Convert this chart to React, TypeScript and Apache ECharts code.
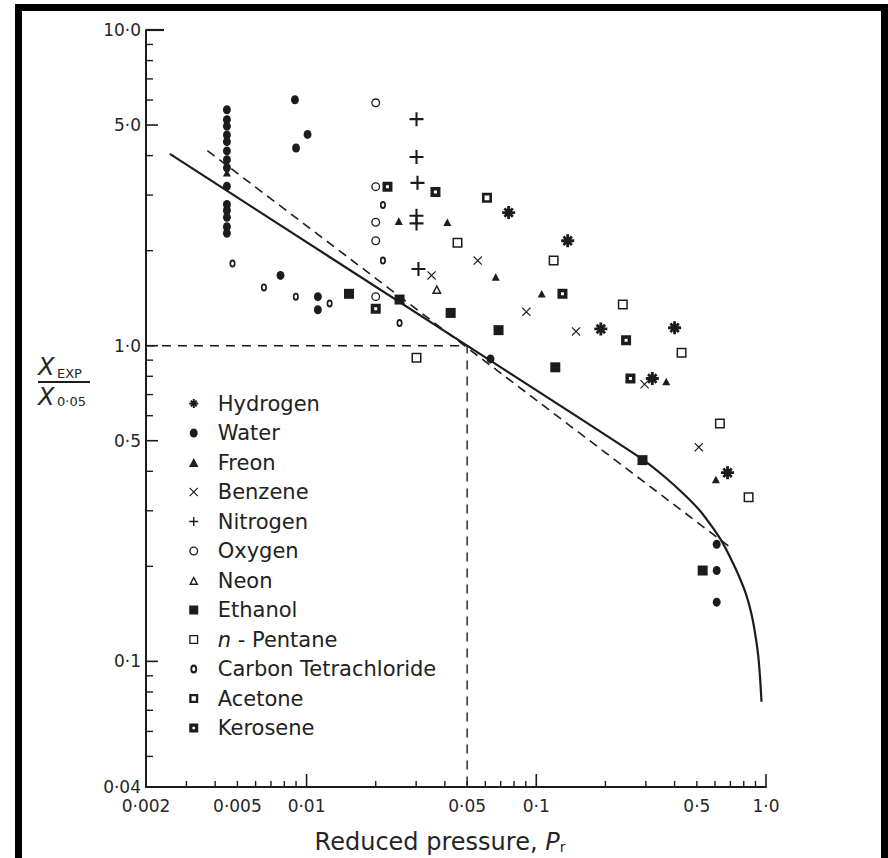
import React, { useEffect, useRef } from 'react';
import * as echarts from 'echarts';

// ---------- data (reduced pressure Pr, X_exp / X_0.05) ----------
const hydrogen = [[0.0758, 2.64], [0.137, 2.15], [0.191, 1.13], [0.40, 1.14], [0.32, 0.787], [0.68, 0.396]];
const water = [
  [0.0045, 5.59], [0.0045, 5.2], [0.0045, 4.96], [0.0045, 4.65], [0.0045, 4.43], [0.0045, 4.14],
  [0.0045, 3.88], [0.0045, 3.66], [0.0045, 3.2], [0.0045, 2.8], [0.0045, 2.68], [0.0045, 2.55],
  [0.0045, 2.38], [0.0045, 2.27], [0.0089, 6.01], [0.0101, 4.67], [0.009, 4.23], [0.0077, 1.67],
  [0.0112, 1.43], [0.0112, 1.3], [0.0632, 0.908], [0.61, 0.235], [0.61, 0.194], [0.61, 0.154],
];
const freon = [[0.0045, 3.53], [0.0252, 2.48], [0.041, 2.46], [0.0666, 1.65], [0.1056, 1.46], [0.368, 0.77], [0.605, 0.377]];
const benzene = [[0.035, 1.67], [0.0556, 1.86], [0.0905, 1.28], [0.149, 1.11], [0.296, 0.755], [0.51, 0.477]];
const nitrogen = [[0.0301, 5.22], [0.0301, 3.96], [0.0304, 3.28], [0.0301, 2.58], [0.0301, 2.44], [0.0307, 1.75]];
const oxygen = [[0.02, 5.88], [0.02, 3.19], [0.02, 2.46], [0.02, 2.15], [0.02, 1.43]];
const neon = [[0.0369, 1.51]];
const ethanol = [[0.0153, 1.46], [0.0254, 1.40], [0.0424, 1.27], [0.0685, 1.12], [0.121, 0.854], [0.29, 0.434], [0.53, 0.194]];
const nPentane = [[0.0454, 2.12], [0.119, 1.86], [0.238, 1.35], [0.429, 0.949], [0.0301, 0.915], [0.63, 0.567], [0.84, 0.331]];
const carbonTet = [[0.00476, 1.82], [0.00652, 1.53], [0.00898, 1.43], [0.0126, 1.36], [0.0215, 2.79], [0.0215, 1.86], [0.0254, 1.18]];
const acetone = [[0.061, 2.94]];
const kerosene = [[0.0225, 3.19], [0.0364, 3.07], [0.13, 1.46], [0.246, 1.04], [0.257, 0.787], [0.02, 1.31]];

// correlation curve (solid), read off the figure, and straight-line approximation (dashed)
const curvePr = [0.00254, 0.05, 0.287, 0.364, 0.444, 0.516, 0.582, 0.644, 0.704, 0.763, 0.819, 0.861, 0.896, 0.924, 0.942, 0.956];
const curveX = [4.05, 1.0, 0.439, 0.383, 0.336, 0.300, 0.267, 0.239, 0.211, 0.186, 0.163, 0.143, 0.123, 0.105, 0.089, 0.0745];
const dashPr = [0.0037, 0.72];
const dashX = [4.15, 0.226];
// reference guide: X = 1.0 at Pr = 0.05
const guidePr = [0.002, 0.05, 0.05];
const guideX = [1.0, 1.0, 0.04];

// axes
const xTickValues = [0.002, 0.005, 0.01, 0.05, 0.1, 0.5, 1.0];
const xTickLabels = ['0·002', '0·005', '0·01', '0·05', '0·1', '0·5', '1·0'];
const yTickValues = [0.04, 0.1, 0.5, 1, 5, 10];
const yTickLabels = ['0·04', '0·1', '0·5', '1·0', '5·0', '10·0'];
const xMinorTicks = [0.003, 0.004, 0.005, 0.006, 0.007, 0.008, 0.009, 0.02, 0.03, 0.04, 0.05, 0.06, 0.07, 0.08, 0.09, 0.2, 0.3, 0.4, 0.5, 0.6, 0.7, 0.8, 0.9];
const xMajorTicks = [0.01, 0.1, 1.0];
const yMinorTicks = [0.05, 0.06, 0.07, 0.08, 0.09, 0.2, 0.3, 0.4, 0.6, 0.7, 0.8, 0.9, 2, 3, 4, 6, 7, 8, 9];
const yMajorTicks = [0.1, 0.5, 1, 5, 10];

const legendNames = ['Hydrogen', 'Water', 'Freon', 'Benzene', 'Nitrogen', 'Oxygen', 'Neon', 'Ethanol', 'n - Pentane', 'Carbon Tetrachloride', 'Acetone', 'Kerosene'];

const SYM = {
  asterisk: 'path://M-1.1,-5H1.1V-1.1H5V1.1H1.1V5H-1.1V1.1H-5V-1.1H-1.1Z M-4,-2.5L-2.5,-4L0,-1.5L2.5,-4L4,-2.5L1.5,0L4,2.5L2.5,4L0,1.5L-2.5,4L-4,2.5L-1.5,0Z',
  dot: 'path://M0,-5A4.4,5,0,1,1,0,5A4.4,5,0,1,1,0,-5Z',
  tri: 'path://M0,-5L5,4.5H-5Z',
  cross: 'path://M-5,-4.1L-4.1,-5L0,-0.9L4.1,-5L5,-4.1L0.9,0L5,4.1L4.1,5L0,0.9L-4.1,5L-5,4.1L-0.9,0Z',
  plus: 'path://M-0.75,-5H0.75V-0.75H5V0.75H0.75V5H-0.75V0.75H-5V-0.75H-0.75Z',
  ring: 'path://M0,-5A5,5,0,1,1,0,5A5,5,0,1,1,0,-5ZM0,-3.5A3.5,3.5,0,1,0,0,3.5A3.5,3.5,0,1,0,0,-3.5Z',
  smallRing: 'path://M0,-5A3.8,5,0,1,1,0,5A3.8,5,0,1,1,0,-5ZM0,-2.6A1.7,2.6,0,1,0,0,2.6A1.7,2.6,0,1,0,0,-2.6Z',
  openTri: 'path://M0,-5L5,4.5H-5Z M0,-1.9L-2.5,3H2.5Z',
  sq: 'path://M0,0H10V10H0Z',
  openSq: 'path://M0,0H10V10H0Z M1.5,1.5V8.5H8.5V1.5Z',
  thickSq: 'path://M0,0H10V10H0Z M2.6,2.6V7.4H7.4V2.6Z',
  dotSq: 'path://M0,0H10V10H0Z M3.5,3.5V6.5H6.5V3.5Z',
};

export default function App() {
  const ref = useRef<HTMLDivElement>(null);

  useEffect(() => {
    const chart = echarts.init(ref.current as HTMLDivElement, null, { renderer: 'svg' });
    const ink = '#1c1c1c';
    const FONT = '"DejaVu Sans", "Liberation Sans", sans-serif';

    const mk = (name: string, data: number[][], symbol: string, size: number | number[]) => ({
      name,
      type: 'scatter',
      data,
      symbol,
      symbolSize: size,
      symbolKeepAspect: true,
      itemStyle: { color: ink, opacity: 1 },
      z: 5,
    });

    const series: any[] = [
      mk('Hydrogen', hydrogen, SYM.asterisk, 13),
      mk('Water', water, SYM.dot, 9),
      mk('Freon', freon, SYM.tri, 8),
      mk('Benzene', benzene, SYM.cross, 9),
      mk('Nitrogen', nitrogen, SYM.plus, 14),
      mk('Oxygen', oxygen, SYM.ring, 9),
      mk('Neon', neon, SYM.openTri, 10),
      mk('Ethanol', ethanol, SYM.sq, 10),
      mk('n - Pentane', nPentane, SYM.openSq, 10),
      mk('Carbon Tetrachloride', carbonTet, SYM.smallRing, 8),
      mk('Acetone', acetone, SYM.thickSq, 10),
      mk('Kerosene', kerosene, SYM.dotSq, 10),
      {
        name: 'curve', type: 'line', data: curvePr.map((p, i) => [p, curveX[i]]), smooth: 0.25,
        symbol: 'none', lineStyle: { color: ink, width: 2.2 }, silent: true, z: 3,
      },
      {
        name: 'approx', type: 'line', data: dashPr.map((p, i) => [p, dashX[i]]),
        symbol: 'none', lineStyle: { color: ink, width: 1.6, type: [9, 6] }, silent: true, z: 3,
      },
      {
        name: 'guide', type: 'line', data: guidePr.map((p, i) => [p, guideX[i]]),
        symbol: 'none', lineStyle: { color: ink, width: 1.4, type: [9, 7] }, silent: true, z: 2,
      },
    ];

    chart.setOption({
      animation: false,
      backgroundColor: '#ffffff',
      grid: { left: 146, right: 122, top: 30, bottom: 71 },
      xAxis: {
        type: 'log', logBase: 10, min: 0.002, max: 1,
        axisLine: { show: true, onZero: false, lineStyle: { color: ink, width: 2 } },
        axisTick: { show: false }, axisLabel: { show: false }, splitLine: { show: false },
      },
      yAxis: {
        type: 'log', logBase: 10, min: 0.04, max: 10,
        axisLine: { show: true, onZero: false, lineStyle: { color: ink, width: 2 } },
        axisTick: { show: false }, axisLabel: { show: false }, splitLine: { show: false },
      },
      legend: {
        data: legendNames,
        orient: 'vertical',
        left: 184,
        top: 388,
        itemWidth: 38,
        itemHeight: 9,
        itemGap: 8.5,
        symbolKeepAspect: true,
        selectedMode: false,
        formatter: (name: string) => (name === 'n - Pentane' ? '{i|n} - Pentane' : name),
        textStyle: {
          fontFamily: FONT, fontSize: 21, color: '#222', lineHeight: 20,
          rich: { i: { fontFamily: FONT, fontSize: 21, fontStyle: 'italic', color: '#222' } },
        },
      },
      series,
    });

    const px = (v: number) => chart.convertToPixel({ xAxisIndex: 0 }, v) as unknown as number;
    const py = (v: number) => chart.convertToPixel({ yAxisIndex: 0 }, v) as unknown as number;
    const xBase = py(0.04);
    const yBase = px(0.002);

    const els: any[] = [];
    const line = (x1: number, y1: number, x2: number, y2: number, w: number) =>
      els.push({ type: 'line', silent: true, z: 10, shape: { x1, y1, x2, y2 }, style: { stroke: ink, lineWidth: w } });
    const text = (t: string, x: number, y: number, font: string, align: string, valign: string) =>
      els.push({
        type: 'text', silent: true, z: 10,
        style: { text: t, x, y, font, fill: '#262626', align, verticalAlign: valign, textAlign: align, textVerticalAlign: valign },
      });

    xMinorTicks.forEach((v) => line(px(v), xBase, px(v), xBase - 6, 1.4));
    xMajorTicks.forEach((v) => line(px(v), xBase, px(v), xBase - 13, 1.6));
    yMinorTicks.forEach((v) => line(yBase, py(v), yBase + 7, py(v), 1.4));
    yMajorTicks.forEach((v) => line(yBase, py(v), yBase + (v === 10 ? 18 : 12), py(v), v === 10 ? 2.2 : 1.6));

    xTickValues.forEach((v, i) => text(xTickLabels[i], px(v), xBase + 10, `17px ${FONT}`, 'center', 'top'));
    yTickValues.forEach((v, i) => text(yTickLabels[i], yBase - 5, py(v), `17px ${FONT}`, 'right', 'middle'));

    // y-axis name as a fraction X_EXP / X_0.05
    text('X', 38, 367, `italic 24px ${FONT}`, 'left', 'middle');
    text('EXP', 57, 373, `13px ${FONT}`, 'left', 'middle');
    line(38, 382, 90, 382, 2);
    text('X', 38, 397, `italic 24px ${FONT}`, 'left', 'middle');
    text('0·05', 57, 401, `13px ${FONT}`, 'left', 'middle');

    // x-axis title
    els.push({
      type: 'text', silent: true, z: 10,
      style: {
        text: '{t|Reduced pressure, }{p|P}{r|r}',
        x: 440, y: 842, align: 'center', verticalAlign: 'middle', textAlign: 'center', textVerticalAlign: 'middle',
        rich: {
          t: { font: `24px ${FONT}`, fill: '#262626' },
          p: { font: `italic 24px ${FONT}`, fill: '#262626' },
          r: { font: `14px ${FONT}`, fill: '#262626', verticalAlign: 'bottom' },
        },
      },
    });

    // black frame of the scanned figure
    els.push({
      type: 'rect', silent: true, z: 20,
      shape: { x: 18.5, y: 7.5, width: 866, height: 900 },
      style: { fill: 'none', stroke: '#000', lineWidth: 7 },
    });

    chart.setOption({ graphic: els });

    return () => chart.dispose();
  }, []);

  return (
    <div
      ref={ref}
      style={{ position: 'fixed', left: 0, top: 0, width: 888, height: 858, background: '#fff' }}
    />
  );
}
